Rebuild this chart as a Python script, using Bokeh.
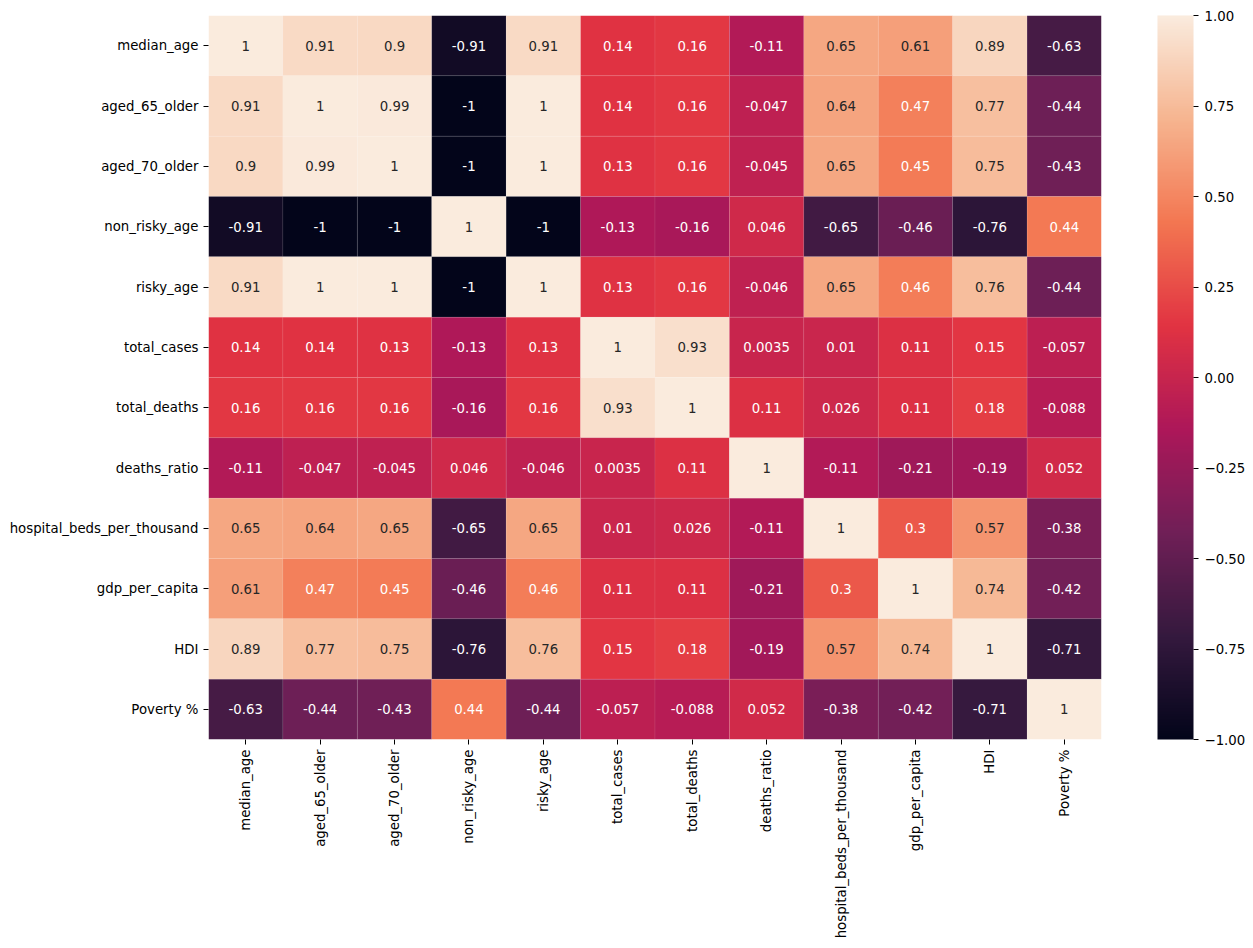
import math
import numpy as np
from bokeh.plotting import figure
from bokeh.models import (ColumnDataSource, LinearColorMapper, ColorBar, FixedTicker,
                          CustomJSTickFormatter, FactorRange)
from bokeh.transform import transform
from bokeh.core.properties import value
from bokeh.embed import file_html
from bokeh.resources import INLINE

labels = ["median_age", "aged_65_older", "aged_70_older", "non_risky_age", "risky_age",
          "total_cases", "total_deaths", "deaths_ratio", "hospital_beds_per_thousand",
          "gdp_per_capita", "HDI", "Poverty %"]

row_median_age = [1, 0.91, 0.9, -0.91, 0.91, 0.14, 0.16, -0.11, 0.65, 0.61, 0.89, -0.63]
row_aged_65_older = [0.91, 1, 0.99, -1, 1, 0.14, 0.16, -0.047, 0.64, 0.47, 0.77, -0.44]
row_aged_70_older = [0.9, 0.99, 1, -1, 1, 0.13, 0.16, -0.045, 0.65, 0.45, 0.75, -0.43]
row_non_risky_age = [-0.91, -1, -1, 1, -1, -0.13, -0.16, 0.046, -0.65, -0.46, -0.76, 0.44]
row_risky_age = [0.91, 1, 1, -1, 1, 0.13, 0.16, -0.046, 0.65, 0.46, 0.76, -0.44]
row_total_cases = [0.14, 0.14, 0.13, -0.13, 0.13, 1, 0.93, 0.0035, 0.01, 0.11, 0.15, -0.057]
row_total_deaths = [0.16, 0.16, 0.16, -0.16, 0.16, 0.93, 1, 0.11, 0.026, 0.11, 0.18, -0.088]
row_deaths_ratio = [-0.11, -0.047, -0.045, 0.046, -0.046, 0.0035, 0.11, 1, -0.11, -0.21, -0.19, 0.052]
row_hospital_beds = [0.65, 0.64, 0.65, -0.65, 0.65, 0.01, 0.026, -0.11, 1, 0.3, 0.57, -0.38]
row_gdp_per_capita = [0.61, 0.47, 0.45, -0.46, 0.46, 0.11, 0.11, -0.21, 0.3, 1, 0.74, -0.42]
row_hdi = [0.89, 0.77, 0.75, -0.76, 0.76, 0.15, 0.18, -0.19, 0.57, 0.74, 1, -0.71]
row_poverty = [-0.63, -0.44, -0.43, 0.44, -0.44, -0.057, -0.088, 0.052, -0.38, -0.42, -0.71, 1]

matrix = [row_median_age, row_aged_65_older, row_aged_70_older, row_non_risky_age,
          row_risky_age, row_total_cases, row_total_deaths, row_deaths_ratio,
          row_hospital_beds, row_gdp_per_capita, row_hdi, row_poverty]

colorbar_ticks = [-1, -0.75, -0.5, -0.25, 0, 0.25, 0.5, 0.75, 1]

# approximate seaborn "rocket" colormap
anchor_pos = [0, 1/7, 2/7, 3/7, 4/7, 5/7, 6/7, 1]
anchor_hex = ["#03051a", "#35193e", "#701f57", "#ad1759", "#e13342", "#f37651", "#f6b48f", "#faebdd"]
anchor_rgb = np.array([[int(h[i:i+2], 16) for i in (1, 3, 5)] for h in anchor_hex], dtype=float)
pos = np.linspace(0, 1, 256)
rgb = np.stack([np.interp(pos, anchor_pos, anchor_rgb[:, k]) for k in range(3)], axis=1)
palette = ["#%02x%02x%02x" % tuple(int(round(c)) for c in row) for row in rgb]

def rel_lum(c):
    c = np.asarray(c) / 255.0
    c = np.where(c <= 0.03928, c / 12.92, ((c + 0.055) / 1.055) ** 2.4)
    return 0.2126 * c[0] + 0.7152 * c[1] + 0.0722 * c[2]

xs, ys, vals, texts, tcolors = [], [], [], [], []
for i, rname in enumerate(labels):
    for j, cname in enumerate(labels):
        v = matrix[i][j]
        xs.append(cname)
        ys.append(rname)
        vals.append(v)
        texts.append("{:.2g}".format(v))
        idx = int(round((v + 1) / 2 * 255))
        tcolors.append("#262626" if rel_lum(rgb[idx]) > 0.408 else "#ffffff")

src = ColumnDataSource(dict(x=xs, y=ys, v=vals, t=texts, tc=tcolors))
mapper = LinearColorMapper(palette=palette, low=-1, high=1)

p = figure(x_range=FactorRange(factors=labels), y_range=FactorRange(factors=labels[::-1]),
           frame_width=893, frame_height=724, output_backend="svg", toolbar_location=None,
           min_border_left=208, min_border_right=144,
           min_border_top=15, min_border_bottom=209)

p.rect(x="x", y="y", width=1, height=1, source=src, fill_color=transform("v", mapper),
       line_color="white", line_alpha=0.12, line_width=0.6)
p.text(x="x", y="y", text="t", text_color="tc", text_align="center", text_baseline="middle",
       text_font=value("DejaVu Sans"), text_font_size="13.3px", source=src)

for ax in (p.xaxis, p.yaxis):
    ax.axis_line_color = None
    ax.major_tick_line_color = "black"
    ax.major_tick_out = 5
    ax.major_tick_in = 0
    ax.minor_tick_line_color = None
    ax.major_label_standoff = 5
    ax.major_label_text_font = "DejaVu Sans"
    ax.major_label_text_font_size = "13.3px"
    ax.major_label_text_color = "black"
p.xaxis.major_label_orientation = math.pi / 2
p.grid.visible = False
p.outline_line_color = None

cb = ColorBar(color_mapper=mapper, ticker=FixedTicker(ticks=colorbar_ticks),
              formatter=CustomJSTickFormatter(code="return (tick < 0 ? '\\u2212' : '') + Math.abs(tick).toFixed(2);"),
              location=(56, 0), width=36, height=724, padding=0, margin=0,
              major_tick_in=0, major_tick_out=5,
              major_tick_line_color="black", label_standoff=6,
              major_label_text_font="DejaVu Sans", major_label_text_font_size="13.3px",
              major_label_text_color="black", bar_line_color=None, border_line_color=None,
              background_fill_color=None)
p.add_layout(cb, "right")

open("out.html", "w").write(file_html(p, INLINE))
